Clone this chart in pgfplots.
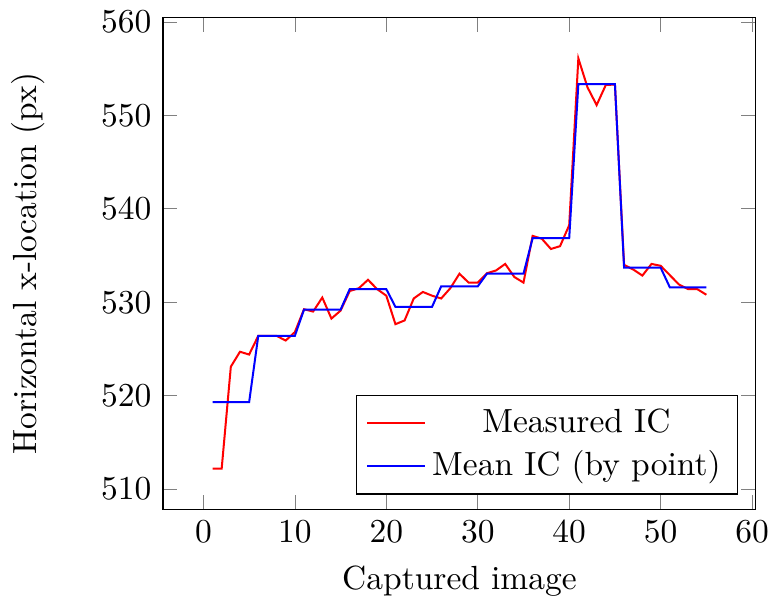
\documentclass[border=0pt]{standalone}
\usepackage{pgfplots}
\pgfplotsset{compat=1.18}
\begin{document}
\begin{tikzpicture}
\begin{axis}[
  scale only axis,
  width=177pt, height=147pt,
  xlabel={Captured image},
  ylabel={Horizontal x-location (px)},
  ylabel shift=10pt,
  legend pos=south east,
  legend cell align=center,
  no markers,
]
% measured positions
\addplot[red, semithick] coordinates {
  (1,512.2) (2,512.2) (3,523.1) (4,524.7) (5,524.4)
  (6,526.4) (7,526.4) (8,526.4) (9,525.9) (10,526.8)
  (11,529.25) (12,529.0) (13,530.5) (14,528.25) (15,529.1)
  (16,531.2) (17,531.5) (18,532.4) (19,531.4) (20,530.7)
  (21,527.65) (22,528.05) (23,530.4) (24,531.1) (25,530.7)
  (26,530.4) (27,531.5) (28,533.05) (29,532.1) (30,532.1)
  (31,533.1) (32,533.4) (33,534.1) (34,532.7) (35,532.1)
  (36,537.1) (37,536.8) (38,535.7) (39,536.0) (40,538.25)
  (41,556.1) (42,553.0) (43,551.1) (44,553.25) (45,553.3)
  (46,534.0) (47,533.5) (48,532.85) (49,534.1) (50,533.9)
  (51,532.9) (52,531.9) (53,531.4) (54,531.4) (55,530.8)
};
\addlegendentry{Measured IC}
% mean per point (groups of five)
\addplot[blue, semithick] coordinates {
  (1,519.3) (2,519.3) (3,519.3) (4,519.3) (5,519.3)
  (6,526.4) (7,526.4) (8,526.4) (9,526.4) (10,526.4)
  (11,529.2) (12,529.2) (13,529.2) (14,529.2) (15,529.2)
  (16,531.4) (17,531.4) (18,531.4) (19,531.4) (20,531.4)
  (21,529.5) (22,529.5) (23,529.5) (24,529.5) (25,529.5)
  (26,531.7) (27,531.7) (28,531.7) (29,531.7) (30,531.7)
  (31,533.05) (32,533.05) (33,533.05) (34,533.05) (35,533.05)
  (36,536.85) (37,536.85) (38,536.85) (39,536.85) (40,536.85)
  (41,553.35) (42,553.35) (43,553.35) (44,553.35) (45,553.35)
  (46,533.7) (47,533.7) (48,533.7) (49,533.7) (50,533.7)
  (51,531.6) (52,531.6) (53,531.6) (54,531.6) (55,531.6)
};
\addlegendentry{Mean IC (by point)}
\end{axis}
\end{tikzpicture}
\end{document}
